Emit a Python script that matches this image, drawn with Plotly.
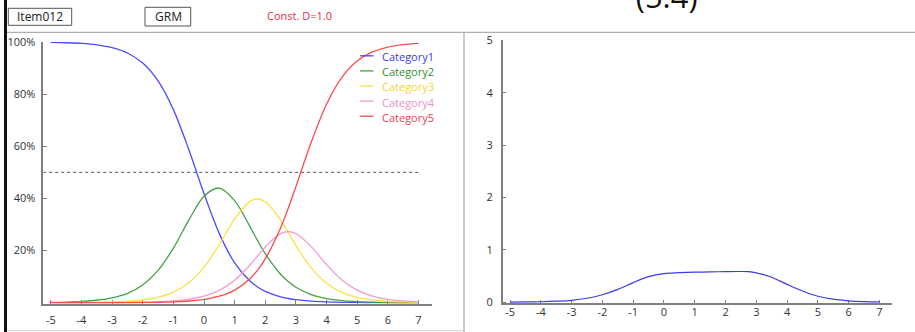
import plotly.graph_objects as go

# ---------------- data ----------------
theta = [-5.0, -4.5, -4.0, -3.5, -3.0, -2.5, -2.0, -1.5, -1.0, -0.5, 0.0, 0.5, 1.0,
         1.5, 1.75, 2.0, 2.5, 2.75, 3.0, 3.5, 4.0, 4.5, 5.0, 5.5, 6.0, 6.5, 7.0]

categories = ["Category1", "Category2", "Category3", "Category4", "Category5"]

cat1 = [0.9986, 0.9972, 0.9945, 0.9890, 0.9783, 0.9577, 0.9190, 0.8506, 0.7406, 0.5888,
        0.4180, 0.2648, 0.1530, 0.0831, 0.0603, 0.0435, 0.0223, 0.0159, 0.0113, 0.0057,
        0.0029, 0.0014, 0.0007, 0.0004, 0.0002, 0.0001, 0.0000]
cat2 = [0.0012, 0.0024, 0.0047, 0.0093, 0.0184, 0.0357, 0.0679, 0.1236, 0.2091, 0.3158,
        0.4082, 0.4397, 0.3916, 0.2919, 0.2380, 0.1878, 0.1088, 0.0807, 0.0591, 0.0309,
        0.0158, 0.0080, 0.0041, 0.0020, 0.0010, 0.0005, 0.0003]
cat3 = [0.0002, 0.0003, 0.0007, 0.0014, 0.0027, 0.0054, 0.0107, 0.0210, 0.0405, 0.0762,
        0.1362, 0.2232, 0.3210, 0.3887, 0.3977, 0.3872, 0.3173, 0.2688, 0.2193, 0.1332,
        0.0744, 0.0395, 0.0204, 0.0104, 0.0053, 0.0027, 0.0013]
cat4 = [0.0000, 0.0001, 0.0001, 0.0002, 0.0004, 0.0008, 0.0017, 0.0033, 0.0065, 0.0129,
        0.0250, 0.0474, 0.0861, 0.1444, 0.1791, 0.2137, 0.2648, 0.2724, 0.2654, 0.2150,
        0.1458, 0.0871, 0.0480, 0.0253, 0.0130, 0.0066, 0.0033]
cat5 = [0.0000, 0.0000, 0.0001, 0.0001, 0.0002, 0.0004, 0.0008, 0.0016, 0.0032, 0.0064,
        0.0126, 0.0248, 0.0483, 0.0919, 0.1250, 0.1679, 0.2868, 0.3622, 0.4450, 0.6152,
        0.7612, 0.8640, 0.9268, 0.9619, 0.9805, 0.9901, 0.9950]

information = [0.0027, 0.0053, 0.0100, 0.0200, 0.0370, 0.0760, 0.1440, 0.2450, 0.3750, 0.4880,
               0.5480, 0.5640, 0.5740, 0.5800, 0.5820, 0.5850, 0.5870, 0.5840, 0.5620, 0.4780,
               0.3420, 0.2150, 0.1150, 0.0580, 0.0280, 0.0130, 0.0060]

half_line_x = [-5.25, 7.0]
half_line_y = [0.5, 0.5]

x_ticks = [-5, -4, -3, -2, -1, 0, 1, 2, 3, 4, 5, 6, 7]
x_ticklabels = ["-5", "-4", "-3", "-2", "-1", "0", "1", "2", "3", "4", "5", "6", "7"]
y_ticks_left = [0.2, 0.4, 0.6, 0.8, 1.0]
y_ticklabels_left = ["20%", "40%", "60%", "80%", "100%"]
y_ticks_right = [0, 1, 2, 3, 4, 5]

item_label = "Item012"
model_label = "GRM"
const_label = "Const. D=1.0"
panel_title = "(5.4)"

# ---------------- styling ----------------
W, H = 915, 332
line_colors = ["#4b4bff", "#45a045", "#ffe04a", "#f29ad2", "#ff4a4a"]
text_colors = ["#3b3bf0", "#2f8f2f", "#f5d43a", "#ec8fcf", "#f23c4b"]
info_color = "#3c3ce6"
axis_col = "#808080"
FONT = "Open Sans"


def px(x):
    return x / W


def py(y):
    return 1 - y / H


series = [cat1, cat2, cat3, cat4, cat5]

fig = go.Figure()

fig.add_trace(go.Scatter(x=half_line_x, y=half_line_y, mode="lines",
                         line=dict(color="#555555", width=1, dash="dot"),
                         xaxis="x", yaxis="y", showlegend=False, hoverinfo="skip"))

for name, vals, col in zip(categories, series, line_colors):
    fig.add_trace(go.Scatter(x=theta, y=vals, mode="lines", name=name,
                             line=dict(color=col, width=1.3, shape="spline", smoothing=0.9),
                             xaxis="x", yaxis="y", showlegend=False))

fig.add_trace(go.Scatter(x=theta, y=information, mode="lines", name="Information",
                         line=dict(color=info_color, width=1.2, shape="spline", smoothing=0.9),
                         xaxis="x2", yaxis="y2", showlegend=False))

# axis geometry (pixel based)
L_x0, L_x1 = 43.3, 432.3
L_y0, L_y1 = 303.7, 42.0
R_x0, R_x1 = 502.7, 892.3
R_y0, R_y1 = 303.3, 40.3

common_axis = dict(showline=True, linecolor=axis_col, linewidth=1.5, ticks="inside",
                   ticklen=4, tickcolor=axis_col, tickwidth=1, showgrid=False,
                   zeroline=False, layer="below traces", automargin=False,
                   tickfont=dict(family=FONT, size=11, color="#333333"))

fig.update_layout(
    width=W, height=H, autosize=False,
    margin=dict(l=0, r=0, t=0, b=0, pad=0),
    paper_bgcolor="white", plot_bgcolor="white",
    font=dict(family=FONT, size=11, color="#333333"),
    title=dict(text=panel_title, xref="container", yref="container", x=666.7 / W, y=1.0,
               xanchor="center", yanchor="bottom", pad=dict(b=-8), automargin=False,
               font=dict(family=FONT, size=31, color="#111111")),
    xaxis=dict(domain=[px(L_x0), px(L_x1)], range=[-5.246, 7.453], anchor="y",
               tickvals=x_ticks, ticktext=x_ticklabels, ticklabelstandoff=5, **common_axis),
    yaxis=dict(domain=[py(L_y0), py(L_y1)], range=[-0.004, 1.0], anchor="x",
               tickvals=y_ticks_left, ticktext=y_ticklabels_left, ticklabelstandoff=4,
               **common_axis),
    xaxis2=dict(domain=[px(R_x0), px(R_x1)], range=[-5.242, 7.42], anchor="y2",
                tickvals=x_ticks, ticktext=x_ticklabels, ticklabelstandoff=-2, **common_axis),
    yaxis2=dict(domain=[py(R_y0), py(R_y1)], range=[-0.02, 5.0], anchor="x2",
                tickvals=y_ticks_right, ticklabelstandoff=6, **common_axis),
)

shapes = []
# frame decorations
shapes.append(dict(type="rect", xref="paper", yref="paper", x0=px(4), x1=px(7), y0=py(332), y1=py(0),
                   fillcolor="#111111", line=dict(width=0)))
shapes.append(dict(type="line", xref="paper", yref="paper", x0=px(7), x1=px(915), y0=py(32.3), y1=py(32.3),
                   line=dict(color="#9a9a9a", width=1)))
shapes.append(dict(type="line", xref="paper", yref="paper", x0=px(464), x1=px(464), y0=py(32.3), y1=py(332),
                   line=dict(color="#9a9a9a", width=1)))
shapes.append(dict(type="line", xref="paper", yref="paper", x0=px(7), x1=px(464), y0=py(330.7), y1=py(330.7),
                   line=dict(color="#d0d0d0", width=1)))
# header boxes
shapes.append(dict(type="rect", xref="paper", yref="paper", x0=px(8.3), x1=px(71.7), y0=py(25.3), y1=py(8.3),
                   line=dict(color="#555555", width=1)))
shapes.append(dict(type="rect", xref="paper", yref="paper", x0=px(145), x1=px(190.7), y0=py(26), y1=py(7.3),
                   line=dict(color="#555555", width=1)))

annotations = [
    dict(text=item_label, x=px(40), y=py(16.8), xref="paper", yref="paper", showarrow=False,
         xanchor="center", yanchor="middle", font=dict(family=FONT, size=12, color="#222222")),
    dict(text=model_label, x=px(168), y=py(16.8), xref="paper", yref="paper", showarrow=False,
         xanchor="center", yanchor="middle", font=dict(family=FONT, size=12, color="#222222")),
    dict(text=const_label, x=px(265), y=py(15.5), xref="paper", yref="paper", showarrow=False,
         xanchor="left", yanchor="middle", font=dict(family=FONT, size=11, color="#ee2a44")),
]

# legend (manual, compact line samples)
leg_y0, leg_dy = 56.8, 15.1
for i, (name, lc, tc) in enumerate(zip(categories, line_colors, text_colors)):
    yy = leg_y0 + i * leg_dy
    shapes.append(dict(type="line", xref="paper", yref="paper", x0=px(360), x1=px(373.5),
                       y0=py(yy - 1), y1=py(yy - 1), line=dict(color=lc, width=1.3)))
    annotations.append(dict(text=name, x=px(380), y=py(yy), xref="paper", yref="paper",
                            showarrow=False, xanchor="left", yanchor="middle",
                            font=dict(family=FONT, size=11, color=tc)))

fig.update_layout(shapes=shapes, annotations=annotations)

fig.write_html("out.html", config={"displayModeBar": False},
               post_script="document.body.style.margin='0px';document.body.style.overflow='hidden';")
